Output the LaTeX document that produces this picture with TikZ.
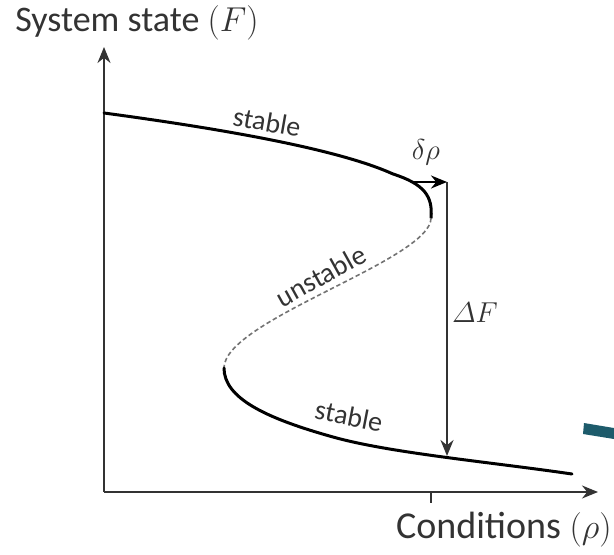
\documentclass[tikz,border=0pt]{standalone}
\usepackage{amsmath}
\usepackage{fontspec}
\setmainfont{Carlito}
\usetikzlibrary{arrows.meta, positioning, calc}
\definecolor{tealbar}{HTML}{1D5B6B}
\definecolor{axisgray}{HTML}{333333}

\tikzset{
  axis/.style={line width=1pt, draw=axisgray},
  branch/.style={line width=1.5pt, line cap=round},
  unstab/.style={line width=0.8pt, draw=gray!90!black, dash pattern=on 2.2pt off 1.4pt},
  tag/.style={font=\fontsize{14}{16}\selectfont, text=axisgray, inner sep=0pt},
  axlabel/.style={text=axisgray, inner sep=0pt}
}

\begin{document}
\begin{tikzpicture}[x=0.5pt, y=-0.5pt, >={Stealth[length=8pt, width=6.5pt]}]
  \useasboundingbox (0,0) rectangle (614,555);
  % axes
  \coordinate (O) at (104,492);
  \coordinate (ytip) at (104,47);
  \coordinate (xtip) at (598,492);
  \draw[axis,->] (O) -- (ytip);
  \draw[axis,->] (O) -- (xtip);
  \draw[axis, line width=0.6pt] (431,492) -- (431,503);
  \node[axlabel, anchor=base west, font=\fontsize{18}{21}\selectfont] (ylab) at (15,32) {System state $(F)$};
  \node[axlabel, anchor=base east, font=\fontsize{19}{22}\selectfont] (xlab) at (612,538) {Conditions $(\rho)$};

  % fold curve
  \draw[branch] (104,113) .. controls (230,130) and (340,150) .. (393,174)
    .. controls (424,184) and (433,196) .. (431,218);
  \draw[unstab] (431,218) .. controls (431,260) and (224,320) .. (224,368);
  \draw[branch] (224,368) .. controls (224,398) and (265,418) .. (333,437)
    .. controls (390,453) and (490,462) .. (572,474);

  % jump
  \coordinate (fold) at (414,182);
  \coordinate (top) at (447,182);
  \coordinate (land) at (447,456);
  \draw[line width=1.2pt,->] (fold) -- (top);
  \draw[line width=1pt, draw=axisgray,->] (top) -- (land);
  \node[tag, font=\fontsize{15}{18}\selectfont] (drho) at (426,152) {$\delta\rho$};
  \node[tag, font=\fontsize{15}{18}\selectfont] (dF) at (475,313) {$\varDelta F$};

  \node[tag, rotate=-10] (stabup) at (267,122) {stable};
  \node[tag, rotate=29] (unst) at (321,276) {unstable};
  \node[tag, rotate=-11] (stablo) at (349,416) {stable};

  \fill[tealbar] (584,423) -- (614,428) -- (614,439) -- (583,434) -- cycle;
\end{tikzpicture}
\end{document}
